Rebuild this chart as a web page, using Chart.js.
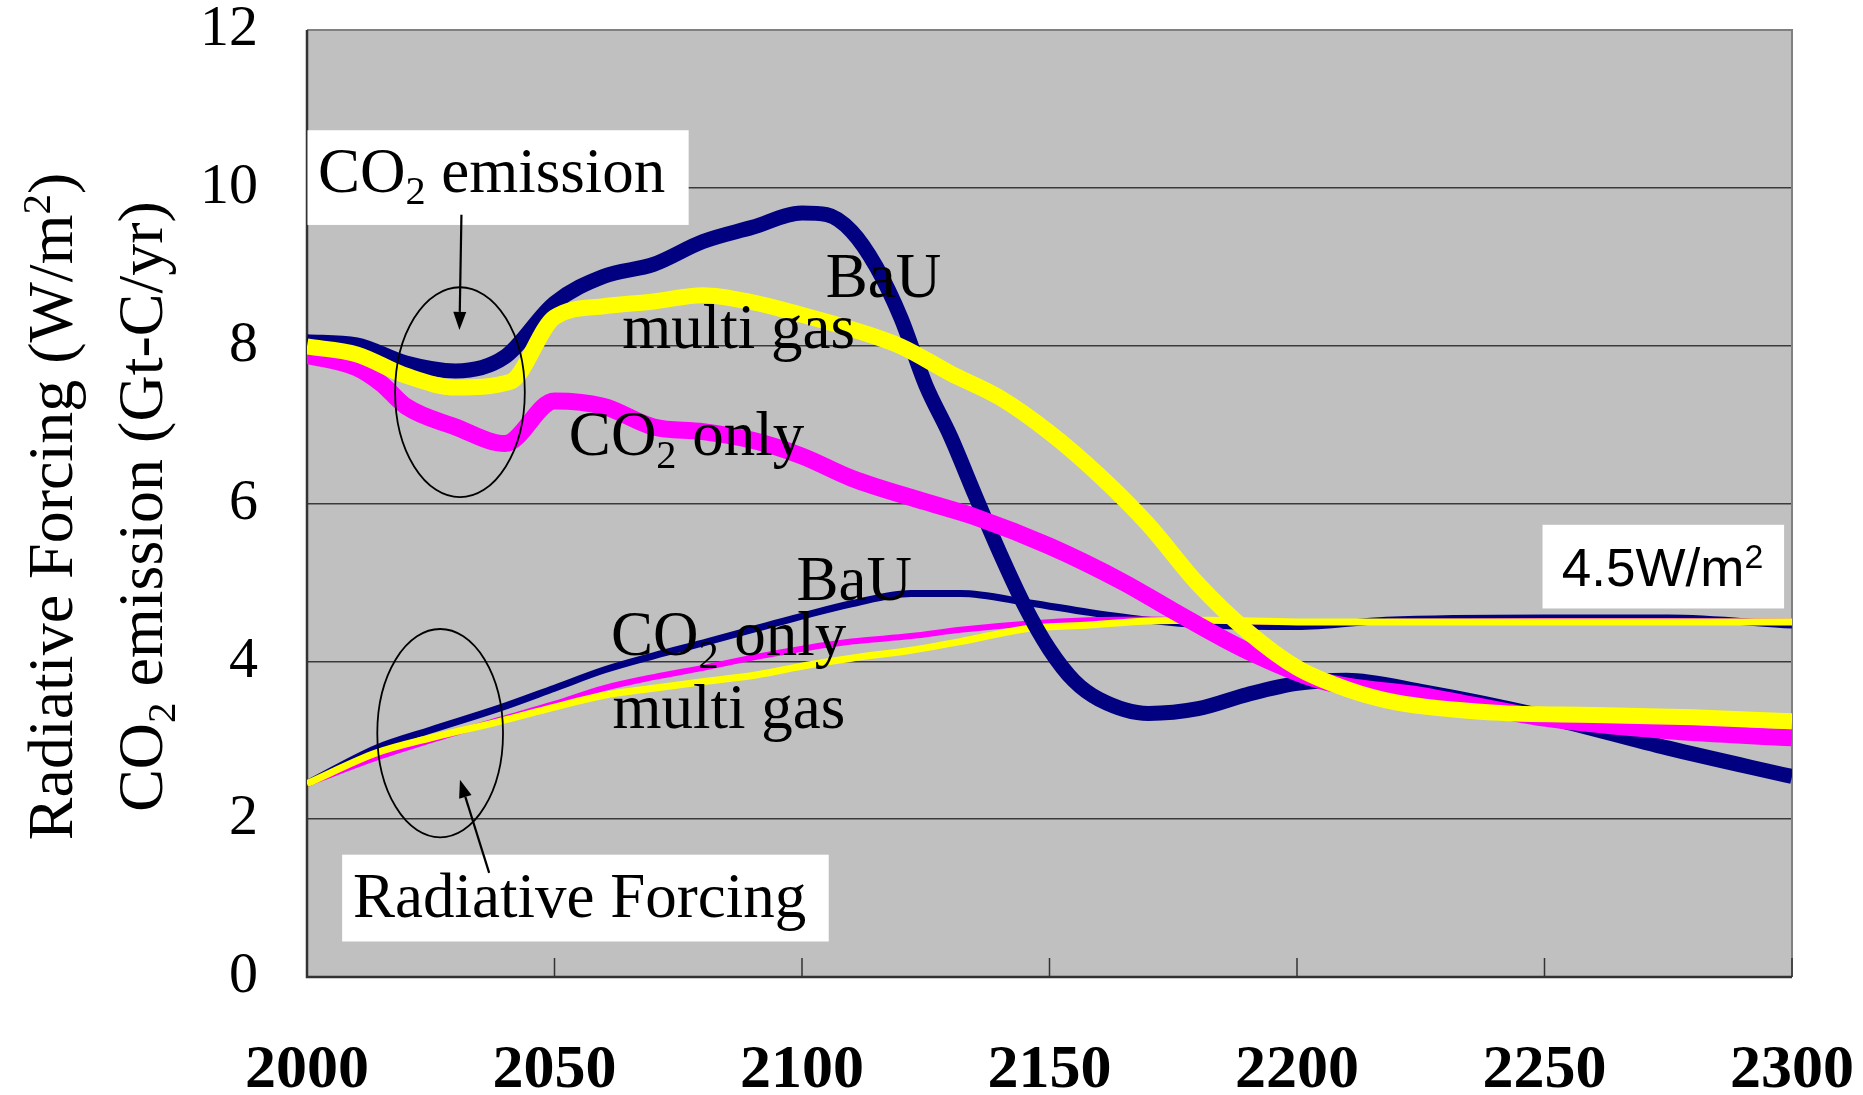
<!DOCTYPE html>
<html>
<head>
<meta charset="utf-8">
<script src="https://cdn.jsdelivr.net/npm/chart.js@4.4.0/dist/chart.umd.min.js"></script>
<style>
  body { margin: 0; background: #fff; }
  #wrap { width: 1863px; height: 1095px; }
</style>
</head>
<body>
<div id="wrap"><canvas id="lineChart"></canvas></div>
<script>
// CO2 emission (Gt-C/yr)
var bauEmisYears = [2000, 2010, 2020, 2030, 2040, 2050, 2060, 2070, 2080, 2090, 2100, 2105, 2110, 2115, 2120, 2125, 2130, 2135, 2140, 2145, 2150, 2155, 2160, 2170, 2180, 2190, 2200, 2210, 2225, 2250, 2275, 2300];
var bauEmis = [8.05, 8.01, 7.78, 7.68, 7.86, 8.54, 8.88, 9.03, 9.32, 9.50, 9.68, 9.66, 9.45, 9.0, 8.35, 7.5, 6.85, 6.10, 5.37, 4.70, 4.15, 3.75, 3.52, 3.34, 3.40, 3.58, 3.72, 3.76, 3.62, 3.30, 2.90, 2.54];

var co2EmisYears = [2000, 2010, 2015, 2020, 2030, 2040, 2050, 2060, 2070, 2080, 2090, 2100, 2110, 2125, 2135, 2150, 2165, 2175, 2190, 2205, 2225, 2250, 2275, 2300];
var co2Emis = [7.88, 7.72, 7.52, 7.23, 6.97, 6.76, 7.30, 7.23, 6.97, 6.91, 6.80, 6.60, 6.32, 6.02, 5.83, 5.46, 5.00, 4.64, 4.13, 3.75, 3.57, 3.28, 3.12, 3.03];

var multiEmisYears = [2000, 2010, 2020, 2030, 2041, 2050, 2060, 2070, 2080, 2090, 2100, 2110, 2120, 2130, 2140, 2150, 2160, 2170, 2180, 2190, 2200, 2210, 2220, 2240, 2260, 2280, 2300];
var multiEmis = [7.99, 7.89, 7.62, 7.47, 7.54, 8.36, 8.50, 8.56, 8.64, 8.55, 8.39, 8.21, 7.99, 7.65, 7.34, 6.90, 6.36, 5.73, 4.98, 4.38, 3.92, 3.65, 3.48, 3.35, 3.32, 3.29, 3.24];

// Radiative forcing (W/m2)
var rfYears = [2000, 2014, 2025, 2039, 2050, 2060, 2070, 2081, 2091, 2101, 2110, 2122, 2132, 2146, 2158, 2170, 2182, 2200, 2218, 2250, 2275, 2300];
var bauRF = [2.45, 2.90, 3.13, 3.41, 3.66, 3.89, 4.07, 4.25, 4.42, 4.59, 4.73, 4.86, 4.86, 4.74, 4.62, 4.52, 4.46, 4.44, 4.52, 4.55, 4.55, 4.46];
var co2RF = [2.45, 2.78, 3.00, 3.26, 3.46, 3.66, 3.80, 3.93, 4.06, 4.17, 4.25, 4.32, 4.40, 4.48, 4.52, 4.53, 4.52, 4.50, 4.50, 4.51, 4.51, 4.50];
var multiRF = [2.45, 2.84, 3.03, 3.24, 3.42, 3.57, 3.66, 3.75, 3.83, 3.95, 4.04, 4.14, 4.25, 4.42, 4.46, 4.51, 4.52, 4.50, 4.50, 4.50, 4.50, 4.50];

var serif = "'Liberation Serif', 'Times New Roman', serif";
var sans = "'Liberation Sans', Arial, sans-serif";

// text notes placed in data units (year, value); parts: [text, 'sub'|'sup'|'']
var notes = [
  { x: 2002.2, y: 9.95, box: [2000.1, 10.73, 2077.1, 9.53], parts: [["CO"], ["2", "sub"], [" emission"]] },
  { x: 2104.8, y: 8.62, parts: [["BaU"]] },
  { x: 2063.7, y: 7.97, parts: [["multi gas"]] },
  { x: 2052.9, y: 6.61, parts: [["CO"], ["2", "sub"], [" only"]] },
  { x: 2098.9, y: 4.78, parts: [["BaU"]] },
  { x: 2061.4, y: 4.08, parts: [["CO"], ["2", "sub"], [" only"]] },
  { x: 2061.7, y: 3.15, parts: [["multi gas"]] },
  { x: 2009.3, y: 0.76, box: [2007.1, 1.55, 2105.4, 0.45], parts: [["Radiative Forcing"]] },
  { x: 2253.5, y: 4.95, box: [2249.6, 5.73, 2298.4, 4.67], font: sans, size: 53, parts: [["4.5W/m"], ["2", "sup"]] }
];
var ellipses = [
  { x: 2030.9, y: 7.41, rx: 13.1, ry: 1.33 },
  { x: 2026.9, y: 3.09, rx: 12.7, ry: 1.32 }
];
var arrows = [
  { x1: 2031.2, y1: 9.66, x2: 2030.8, y2: 8.20 },
  { x1: 2036.8, y1: 1.32, x2: 2030.9, y2: 2.50 }
];

function pts(xs, ys) {
  return xs.map(function (x, i) { return { x: x, y: ys[i] }; });
}

function drawRich(c, parts, x, y, size, family) {
  var cx = x;
  parts.forEach(function (p) {
    var small = p[1] === "sub" || p[1] === "sup";
    var s = small ? size * 0.64 : size;
    var dy = p[1] === "sub" ? size * 0.2 : p[1] === "sup" ? -size * 0.34 : 0;
    c.font = s + "px " + family;
    c.fillText(p[0], cx, y + dy);
    cx += c.measureText(p[0]).width;
  });
  return cx - x;
}

function richWidth(c, parts, size, family) {
  var w = 0;
  parts.forEach(function (p) {
    var small = p[1] === "sub" || p[1] === "sup";
    c.font = (small ? size * 0.64 : size) + "px " + family;
    w += c.measureText(p[0]).width;
  });
  return w;
}

var decor = {
  id: "decor",
  beforeDraw: function (chart) {
    var a = chart.chartArea, c = chart.ctx;
    c.save();
    c.fillStyle = "#C0C0C0";
    c.fillRect(a.left, a.top, a.right - a.left, a.bottom - a.top);
    c.restore();
  },
  beforeDatasetsDraw: function (chart) {
    var a = chart.chartArea, c = chart.ctx, xs = chart.scales.x;
    c.save();
    c.strokeStyle = "#808080";
    c.lineWidth = 2;
    c.beginPath();
    c.moveTo(a.left, a.top); c.lineTo(a.right, a.top); c.lineTo(a.right, a.bottom);
    c.stroke();
    c.strokeStyle = "#333";
    c.lineWidth = 2.5;
    c.beginPath();
    c.moveTo(a.left, a.top); c.lineTo(a.left, a.bottom); c.lineTo(a.right, a.bottom);
    c.stroke();
    c.lineWidth = 1.5;
    xs.ticks.forEach(function (t) {
      var px = xs.getPixelForValue(t.value);
      c.beginPath(); c.moveTo(px, a.bottom); c.lineTo(px, a.bottom - 19); c.stroke();
    });
    c.restore();
  },
  afterDatasetsDraw: function (chart) {
    var c = chart.ctx, xs = chart.scales.x, ys = chart.scales.y;
    c.save();
    c.textAlign = "left";
    c.textBaseline = "alphabetic";
    notes.forEach(function (n) {
      if (n.box) {
        var bx = xs.getPixelForValue(n.box[0]), by = ys.getPixelForValue(n.box[1]);
        c.fillStyle = "#fff";
        c.fillRect(bx, by, xs.getPixelForValue(n.box[2]) - bx, ys.getPixelForValue(n.box[3]) - by);
      }
      c.fillStyle = "#000";
      drawRich(c, n.parts, xs.getPixelForValue(n.x), ys.getPixelForValue(n.y), n.size || 63, n.font || serif);
    });
    c.strokeStyle = "#000";
    c.lineWidth = 1.8;
    ellipses.forEach(function (e) {
      var cx = xs.getPixelForValue(e.x), cy = ys.getPixelForValue(e.y);
      c.beginPath();
      c.ellipse(cx, cy, xs.getPixelForValue(e.x + e.rx) - cx, cy - ys.getPixelForValue(e.y + e.ry), 0, 0, Math.PI * 2);
      c.stroke();
    });
    c.fillStyle = "#000";
    arrows.forEach(function (r) {
      var x1 = xs.getPixelForValue(r.x1), y1 = ys.getPixelForValue(r.y1);
      var x2 = xs.getPixelForValue(r.x2), y2 = ys.getPixelForValue(r.y2);
      var ang = Math.atan2(y2 - y1, x2 - x1), len = 18, hw = 6.5;
      var bx = x2 - len * Math.cos(ang), by = y2 - len * Math.sin(ang);
      c.lineWidth = 2.2;
      c.beginPath(); c.moveTo(x1, y1); c.lineTo(bx, by); c.stroke();
      c.beginPath();
      c.moveTo(x2, y2);
      c.lineTo(bx + hw * Math.sin(ang), by - hw * Math.cos(ang));
      c.lineTo(bx - hw * Math.sin(ang), by + hw * Math.cos(ang));
      c.closePath(); c.fill();
    });
    // vertical axis titles
    var titles = [
      { bx: 72, parts: [["Radiative Forcing (W/m"], ["2", "sup"], [")"]] },
      { bx: 162, parts: [["CO"], ["2", "sub"], [" emission (Gt-C/yr)"]] }
    ];
    var midY = (chart.chartArea.top + chart.chartArea.bottom) / 2 + 3;
    titles.forEach(function (t) {
      var w = richWidth(c, t.parts, 64, serif);
      c.save();
      c.translate(t.bx, midY);
      c.rotate(-Math.PI / 2);
      drawRich(c, t.parts, -w / 2, 0, 64, serif);
      c.restore();
    });
    c.restore();
  }
};

var ctx = document.getElementById("lineChart").getContext("2d");

var MyChart = new Chart(ctx, {
  type: "line",
  data: {
    datasets: [
      { label: "multi gas emission", data: pts(multiEmisYears, multiEmis), borderColor: "#FFFF00", borderWidth: 16, order: 1 },
      { label: "CO2 only emission", data: pts(co2EmisYears, co2Emis), borderColor: "#FF00FF", borderWidth: 17, order: 2 },
      { label: "BaU emission", data: pts(bauEmisYears, bauEmis), borderColor: "#000080", borderWidth: 15, order: 3 },
      { label: "multi gas forcing", data: pts(rfYears, multiRF), borderColor: "#FFFF00", borderWidth: 7, order: 4 },
      { label: "CO2 only forcing", data: pts(rfYears, co2RF), borderColor: "#FF00FF", borderWidth: 6, order: 5 },
      { label: "BaU forcing", data: pts(rfYears, bauRF), borderColor: "#000080", borderWidth: 7, order: 6 }
    ]
  },
  options: {
    responsive: true,
    maintainAspectRatio: false,
    animation: false,
    events: [],
    layout: { padding: { top: 30, right: 71, left: 0, bottom: 0 } },
    elements: {
      point: { radius: 0 },
      line: { cubicInterpolationMode: "monotone", borderJoinStyle: "round", fill: false }
    },
    plugins: { legend: { display: false }, tooltip: { enabled: false } },
    scales: {
      x: {
        type: "linear",
        min: 2000,
        max: 2300,
        afterFit: function (s) { s.height = 118; s.paddingLeft = 0; s.paddingRight = 0; },
        grid: { display: false },
        border: { display: false },
        ticks: {
          stepSize: 50, padding: 49, color: "#000",
          font: { family: serif, size: 62, weight: "bold" },
          callback: function (v) { return String(v); }
        }
      },
      y: {
        min: 0,
        max: 12,
        afterFit: function (s) { s.width = 307; s.paddingTop = 0; s.paddingBottom = 0; },
        grid: { color: "#3a3a3a", lineWidth: 1.5, drawTicks: false },
        border: { display: false },
        ticks: { stepSize: 2, padding: 49, color: "#000", font: { family: serif, size: 58, lineHeight: 1 } }
      }
    }
  },
  plugins: [decor]
});
</script>
</body>
</html>
